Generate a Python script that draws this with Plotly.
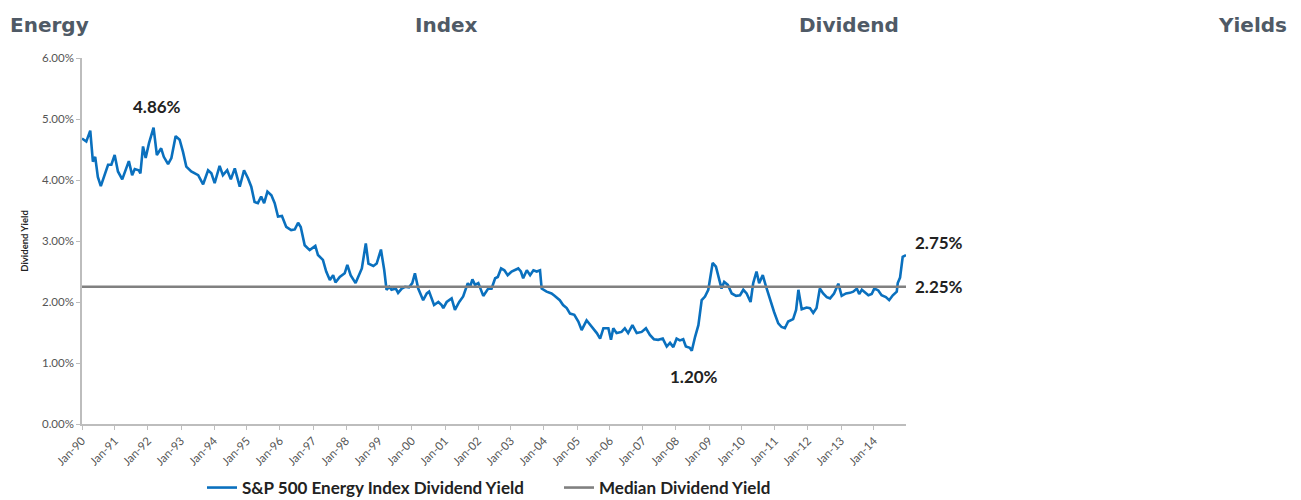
import plotly.graph_objects as go
import pandas as pd

# ---- data (decimal year, dividend yield in %) ----
years = [
    1990.00, 1990.13, 1990.25, 1990.33, 1990.40, 1990.48, 1990.57, 1990.69, 1990.79, 1990.89,
    1990.99, 1991.09, 1991.22, 1991.42, 1991.52, 1991.60, 1991.72, 1991.77, 1991.85, 1991.93,
    1992.03, 1992.17, 1992.27, 1992.40, 1992.48, 1992.61, 1992.71, 1992.84, 1992.96, 1993.06,
    1993.16, 1993.31, 1993.42, 1993.52, 1993.67, 1993.82, 1993.92, 1994.02, 1994.17, 1994.27,
    1994.40, 1994.51, 1994.63, 1994.78, 1994.91, 1995.03, 1995.13, 1995.23, 1995.33, 1995.43,
    1995.52, 1995.62, 1995.74, 1995.84, 1995.94, 1996.06, 1996.19, 1996.34, 1996.45, 1996.55,
    1996.63, 1996.75, 1996.90, 1997.07, 1997.15, 1997.30, 1997.40, 1997.51, 1997.61, 1997.68,
    1997.81, 1997.96, 1998.04, 1998.14, 1998.29, 1998.37, 1998.48, 1998.60, 1998.68, 1998.83,
    1998.93, 1999.06, 1999.16, 1999.23, 1999.31, 1999.38, 1999.51, 1999.58, 1999.69, 1999.79,
    1999.91, 2000.01, 2000.09, 2000.19, 2000.34, 2000.45, 2000.52, 2000.67, 2000.80, 2000.90,
    2000.95, 2001.05, 2001.20, 2001.30, 2001.43, 2001.55, 2001.69, 2001.76, 2001.83, 2001.91,
    2002.01, 2002.16, 2002.31, 2002.41, 2002.52, 2002.60, 2002.70, 2002.80, 2002.90, 2003.02,
    2003.12, 2003.22, 2003.30, 2003.37, 2003.48, 2003.58, 2003.68, 2003.78, 2003.88, 2003.93,
    2004.08, 2004.23, 2004.33, 2004.48, 2004.58, 2004.69, 2004.79, 2004.92, 2005.04, 2005.14,
    2005.29, 2005.45, 2005.60, 2005.70, 2005.80, 2005.95, 2006.03, 2006.10, 2006.20, 2006.35,
    2006.45, 2006.55, 2006.68, 2006.81, 2006.96, 2007.09, 2007.21, 2007.33, 2007.46, 2007.60,
    2007.72, 2007.82, 2007.92, 2008.02, 2008.12, 2008.22, 2008.30, 2008.42, 2008.48, 2008.58,
    2008.68, 2008.78, 2008.88, 2008.98, 2009.11, 2009.21, 2009.31, 2009.38, 2009.46, 2009.57,
    2009.69, 2009.82, 2009.94, 2010.04, 2010.14, 2010.26, 2010.34, 2010.44, 2010.52, 2010.63,
    2010.73, 2010.85, 2010.97, 2011.10, 2011.20, 2011.30, 2011.40, 2011.55, 2011.64, 2011.71,
    2011.81, 2011.96, 2012.06, 2012.16, 2012.26, 2012.36, 2012.46, 2012.57, 2012.67, 2012.79,
    2012.92, 2013.02, 2013.15, 2013.27, 2013.37, 2013.48, 2013.55, 2013.63, 2013.73, 2013.83,
    2013.93, 2014.01, 2014.13, 2014.23, 2014.36, 2014.46, 2014.57, 2014.69, 2014.72, 2014.79,
    2014.87, 2014.97,
]
yields = [
    4.68, 4.63, 4.81, 4.30, 4.38, 4.05, 3.90, 4.11, 4.25, 4.25,
    4.41, 4.14, 4.01, 4.31, 4.08, 4.18, 4.16, 4.11, 4.55, 4.36,
    4.60, 4.86, 4.41, 4.52, 4.38, 4.26, 4.36, 4.72, 4.66, 4.46,
    4.22, 4.14, 4.11, 4.08, 3.93, 4.16, 4.11, 3.95, 4.23, 4.08,
    4.16, 4.01, 4.19, 3.89, 4.16, 4.03, 3.89, 3.64, 3.62, 3.73,
    3.62, 3.81, 3.75, 3.62, 3.40, 3.41, 3.23, 3.18, 3.19, 3.30,
    3.23, 2.93, 2.85, 2.92, 2.77, 2.69, 2.50, 2.36, 2.44, 2.32,
    2.41, 2.47, 2.61, 2.44, 2.31, 2.41, 2.55, 2.96, 2.63, 2.59,
    2.63, 2.86, 2.52, 2.20, 2.25, 2.20, 2.22, 2.15, 2.22, 2.25,
    2.24, 2.31, 2.47, 2.22, 2.03, 2.14, 2.17, 1.95, 2.00, 1.95,
    1.90, 2.00, 2.06, 1.87, 2.00, 2.09, 2.31, 2.25, 2.37, 2.28,
    2.31, 2.10, 2.22, 2.22, 2.39, 2.41, 2.55, 2.52, 2.44, 2.50,
    2.52, 2.55, 2.50, 2.39, 2.52, 2.44, 2.52, 2.50, 2.52, 2.22,
    2.17, 2.14, 2.10, 2.03, 1.95, 1.90, 1.81, 1.79, 1.68, 1.54,
    1.70, 1.60, 1.49, 1.40, 1.57, 1.57, 1.38, 1.57, 1.49, 1.51,
    1.57, 1.49, 1.62, 1.49, 1.51, 1.57, 1.46, 1.39, 1.38, 1.40,
    1.27, 1.33, 1.26, 1.40, 1.37, 1.39, 1.27, 1.25, 1.20, 1.43,
    1.62, 2.03, 2.09, 2.20, 2.64, 2.58, 2.39, 2.22, 2.33, 2.28,
    2.14, 2.10, 2.11, 2.20, 2.14, 2.00, 2.31, 2.50, 2.31, 2.44,
    2.25, 2.03, 1.84, 1.65, 1.59, 1.57, 1.68, 1.72, 1.87, 2.20,
    1.88, 1.91, 1.90, 1.82, 1.90, 2.22, 2.14, 2.08, 2.06, 2.14,
    2.30, 2.10, 2.14, 2.15, 2.17, 2.22, 2.13, 2.20, 2.15, 2.11,
    2.13, 2.22, 2.19, 2.11, 2.08, 2.03, 2.11, 2.17, 2.31, 2.40,
    2.74, 2.77,
]
median_yield = 2.25
series_name = "S&P 500 Energy Index Dividend Yield"
median_name = "Median Dividend Yield"
title_words = ["Energy", "Index", "Dividend", "Yields"]
callouts = [("4.86%", 1992.27, 5.20), ("2.75%", 2014.97, 2.98), ("2.25%", 2014.97, 2.25), ("1.20%", 2008.55, 0.78)]

def to_date(y):
    yr = int(y)
    return pd.Timestamp(f"{yr}-01-01") + pd.to_timedelta((y - yr) * 365.25, unit="D")

dates = [to_date(v) for v in years]

OFF = 8  # page body margin
W, H = 1301 - OFF, 500 - OFF
# plot area in page px
L, R, T, B = 82, 906, 58, 424
def px(x):
    return (x - L) / (R - L)
def py(y):
    return (B - y) / (B - T)

BLUE = "#0a70be"
GREY = "#808080"
AX = "#bdbdbd"
TXT = "#222222"
TICK = "#555555"
CFONT = "Lato"

fig = go.Figure()
fig.add_trace(go.Scatter(x=dates, y=yields, mode="lines", name=series_name,
                         line=dict(color=BLUE, width=2.6)))
fig.add_trace(go.Scatter(x=[dates[0], dates[-1]], y=[median_yield, median_yield], mode="lines",
                         name=median_name, line=dict(color=GREY, width=2.6)))

fig.update_layout(
    width=W, height=H,
    margin=dict(l=L - OFF, r=1301 - R, t=T - OFF, b=500 - B, autoexpand=False),
    paper_bgcolor="white", plot_bgcolor="white",
    showlegend=True,
    legend=dict(orientation="h", x=px(202), y=py(488), xanchor="left", yanchor="middle",
                font=dict(family=CFONT, size=17, color=TXT, weight="bold"),
                itemwidth=30, entrywidth=312, entrywidthmode="pixels",
                tracegroupgap=0, bgcolor="rgba(0,0,0,0)"),
    xaxis=dict(type="date", range=[to_date(1990.0), to_date(2014.97)], automargin=False,
               tick0="1990-01-01", dtick="M12", tickformat="%b-%y", tickangle=-45,
               showgrid=False, zeroline=False, showline=True, linecolor=AX, linewidth=1.5,
               ticks="outside", ticklen=4, tickcolor=AX,
               tickfont=dict(family=CFONT, size=11.5, color=TICK)),
    yaxis=dict(range=[0, 6], dtick=1, tickformat=".2f", ticksuffix="%", automargin=False,
               showgrid=False, zeroline=False, showline=True, linecolor=AX, linewidth=1.5,
               ticks="outside", ticklen=4, tickcolor=AX,
               tickfont=dict(family=CFONT, size=11.5, color=TICK),
               title=dict(text="Dividend Yield", standoff=12,
                          font=dict(family=CFONT, size=9.5, color=TXT, weight="bold"))),
)

for txt, xv, yv in callouts:
    anchor = "center" if txt in ("4.86%", "1.20%") else "left"
    fig.add_annotation(x=to_date(xv), y=yv, text=txt, showarrow=False, xref="x", yref="y",
                       xanchor=anchor, yanchor="middle", xshift=7 if anchor == "left" else 0,
                       font=dict(family=CFONT, size=17, color=TXT, weight="bold"))

# justified page title
title_pos = [(8, "left"), (413, "left"), (797, "left"), (1289, "right")]
for w, (xp, anc) in zip(title_words, title_pos):
    fig.add_annotation(x=px(xp), y=py(25), xref="paper", yref="paper", text=w, showarrow=False,
                       xanchor=anc, yanchor="middle",
                       font=dict(family="DejaVu Sans", size=20, color="#4f5a66", weight="bold"))

fig.write_html("out.html")
